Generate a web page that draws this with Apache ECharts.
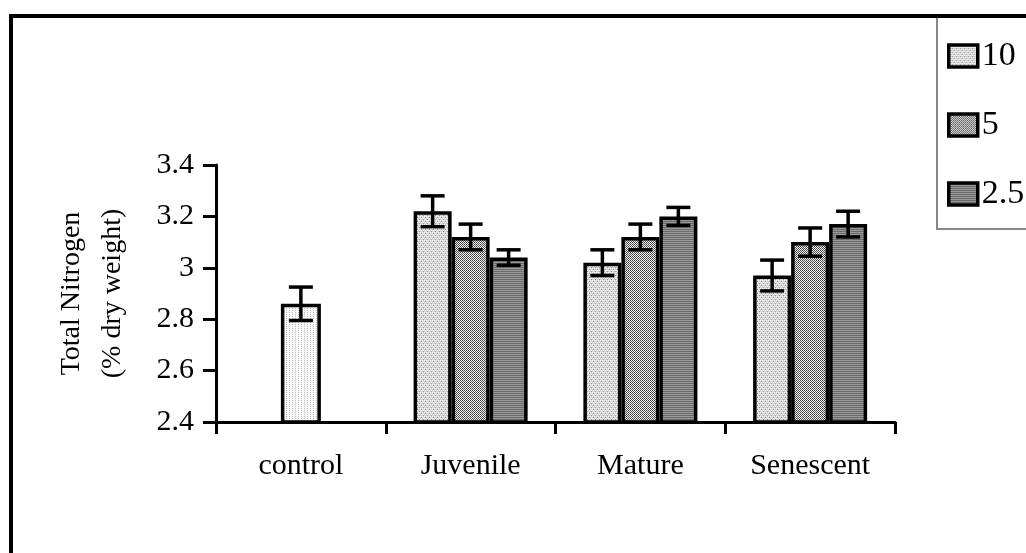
<!DOCTYPE html>
<html><head><meta charset="utf-8">
<script src="https://cdn.jsdelivr.net/npm/echarts@6/dist/echarts.min.js"></script>
<style>html,body{margin:0;padding:0;background:#fff}#c{width:1026px;height:553px}</style>
</head><body><div id="c"></div>
<script>
var categories = ['control', 'Juvenile', 'Mature', 'Senescent'];
var seriesNames = ['10', '5', '2.5'];
var controlValues = [2.86, null, null, null];
var controlErr = [0.065, null, null, null];
var s10 = [null, 3.22, 3.02, 2.97];
var s5 = [null, 3.12, 3.12, 3.10];
var s25 = [null, 3.04, 3.20, 3.17];
var e10 = [null, 0.06, 0.05, 0.06];
var e5 = [null, 0.05, 0.05, 0.055];
var e25 = [null, 0.03, 0.035, 0.05];
var yTicks = [2.4, 2.6, 2.8, 3.0, 3.2, 3.4];

function pat(w, h, draw) {
  var c = document.createElement('canvas'); c.width = w; c.height = h;
  var ctx = c.getContext('2d'); draw(ctx); return { image: c, repeat: 'repeat' };
}
function px(ctx, x, y, col) { ctx.fillStyle = col; ctx.fillRect(x, y, 1, 1); }
var patControl = pat(3, 2, function (ctx) { ctx.fillStyle = '#fafafa'; ctx.fillRect(0, 0, 3, 2); px(ctx, 1, 0, '#b8b8b8'); });
var pat10 = pat(4, 4, function (ctx) {
  ctx.fillStyle = '#d6d6d6'; ctx.fillRect(0, 0, 4, 4);
  px(ctx, 0, 0, '#ffffff'); px(ctx, 2, 0, '#ffffff'); px(ctx, 1, 2, '#ffffff'); px(ctx, 3, 2, '#ffffff');
  px(ctx, 1, 1, '#909090'); px(ctx, 3, 3, '#909090');
});
var pat5 = pat(2, 2, function (ctx) {
  ctx.fillStyle = '#f4f4f4'; ctx.fillRect(0, 0, 2, 2);
  px(ctx, 0, 0, '#3a3a3a'); px(ctx, 1, 1, '#5a5a5a');
});
var pat25 = pat(1, 2, function (ctx) {
  ctx.fillStyle = '#9a9a9a'; ctx.fillRect(0, 0, 1, 2); px(ctx, 0, 1, '#6a6a6a');
});

var BW = 38;
function errData(vals, errs) {
  var out = [];
  for (var i = 0; i < vals.length; i++) if (vals[i] != null) out.push([i, vals[i], errs[i]]);
  return out;
}
function errSeries(vals, errs, offset, axisIdx) {
  return {
    type: 'custom', xAxisIndex: axisIdx, z: 5, silent: true,
    data: errData(vals, errs), encode: { x: 0, y: 1 },
    renderItem: function (params, api) {
      var ci = api.value(0), v = api.value(1), e = api.value(2);
      var x = api.coord([ci, v])[0] + offset;
      var t = api.coord([ci, v + e])[1], b = api.coord([ci, v - e])[1];
      var st = { stroke: '#000', lineWidth: 3.5 };
      var hw = 12;
      return { type: 'group', children: [
        { type: 'line', shape: { x1: x, y1: t, x2: x, y2: b }, style: st },
        { type: 'line', shape: { x1: x - hw, y1: t, x2: x + hw, y2: t }, style: st },
        { type: 'line', shape: { x1: x - hw, y1: b, x2: x + hw, y2: b }, style: st }
      ] };
    }
  };
}
var barStyle = function (c) { return { color: c, borderColor: '#000', borderWidth: 3.5 }; };
var FONT = 'Liberation Serif';

var chart = echarts.init(document.getElementById('c'), null, { renderer: 'canvas' });
chart.setOption({
  animation: false,
  backgroundColor: '#fff',
  textStyle: { fontFamily: FONT, color: '#000' },
  grid: { left: 216, right: 131, top: 165, bottom: 131, containLabel: false },
  legend: {
    data: seriesNames, orient: 'vertical', left: 942, top: 34, itemGap: 35,
    itemWidth: 29, itemHeight: 22, selectedMode: false, icon: 'rect',
    itemStyle: { borderColor: '#000', borderWidth: 3.5 },
    textStyle: { fontFamily: FONT, fontSize: 34, color: '#000', padding: [0, 0, 0, -1] }
  },
  xAxis: [{
    type: 'category', data: categories, boundaryGap: true,
    axisLine: { lineStyle: { color: '#000', width: 3 } },
    axisTick: { show: true, length: 12, lineStyle: { color: '#000', width: 3 } },
    axisLabel: { fontFamily: FONT, fontSize: 30, color: '#000', margin: 29 }
  }, {
    type: 'category', data: categories, show: false
  }],
  yAxis: {
    type: 'value', min: 2.4, max: 3.4, interval: 0.2,
    splitLine: { show: false },
    axisLine: { show: true, lineStyle: { color: '#000', width: 3 } },
    axisTick: { show: true, length: 13, lineStyle: { color: '#000', width: 3 } },
    axisLabel: { fontFamily: FONT, fontSize: 30, color: '#000', margin: 22,
      formatter: function (v) { var r = Math.round(v * 10) / 10; return yTicks.indexOf(r) >= 0 ? String(r) : ''; } },
    name: 'Total Nitrogen\n(% dry weight)', nameLocation: 'middle', nameRotate: 90, nameGap: 83,
    nameTextStyle: { fontFamily: FONT, fontSize: 28, color: '#000', lineHeight: 41 }
  },
  graphic: [
    { type: 'rect', shape: { x: 11, y: 16, width: 1100, height: 700 }, style: { fill: null, stroke: '#000', lineWidth: 4 }, z: 100 },
    { type: 'rect', shape: { x: 937, y: 16, width: 120, height: 213 }, style: { fill: null, stroke: '#888', lineWidth: 2 }, z: 99 }
  ],
  series: [
    { name: 'control', type: 'bar', xAxisIndex: 1, data: controlValues, barWidth: 40, itemStyle: barStyle(patControl) },
    { name: '10', type: 'bar', data: s10, barWidth: BW, barGap: '0%', itemStyle: barStyle(pat10) },
    { name: '5', type: 'bar', data: s5, barWidth: BW, barGap: '0%', itemStyle: barStyle(pat5) },
    { name: '2.5', type: 'bar', data: s25, barWidth: BW, barGap: '0%', itemStyle: barStyle(pat25) },
    errSeries(controlValues, controlErr, 0, 1),
    errSeries(s10, e10, -BW, 0),
    errSeries(s5, e5, 0, 0),
    errSeries(s25, e25, BW, 0)
  ]
});
</script></body></html>
